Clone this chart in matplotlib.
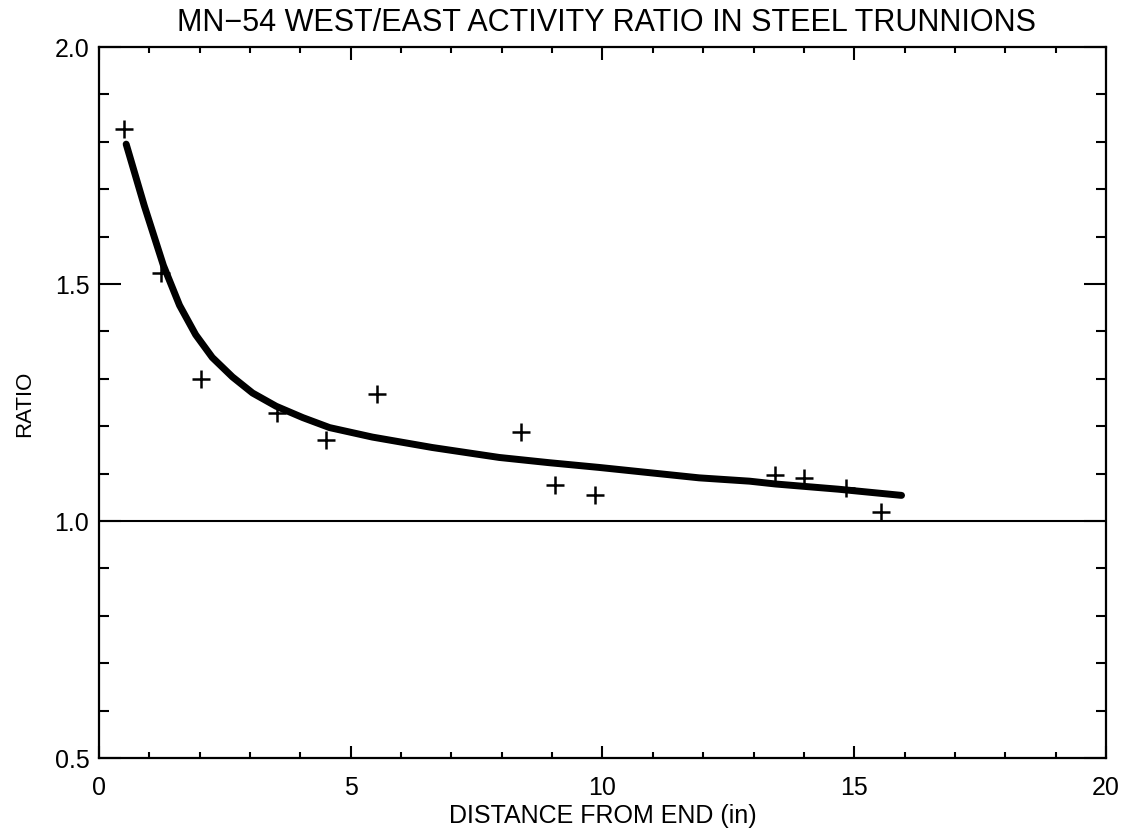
import matplotlib
matplotlib.use("Agg")
import matplotlib.pyplot as plt
from matplotlib.ticker import MultipleLocator

plt.rcParams["font.family"] = ["Liberation Sans", "DejaVu Sans"]

# measured points (+)
dist_pts = [0.49, 1.24, 2.03, 3.53, 4.50, 5.52, 8.38, 9.06, 9.86, 13.42, 14.01, 14.83, 15.53]
ratio_pts = [1.826, 1.523, 1.299, 1.227, 1.170, 1.267, 1.188, 1.075, 1.055, 1.098, 1.091, 1.070, 1.018]

# fitted curve
dist_fit = [0.54, 0.90, 1.28, 1.60, 1.92, 2.25, 2.65, 3.05, 3.52, 4.05, 4.58, 5.43,
            6.62, 7.95, 8.94, 9.93, 11.92, 12.92, 13.44, 14.69, 15.94]
ratio_fit = [1.795, 1.665, 1.539, 1.455, 1.393, 1.345, 1.304, 1.270, 1.242, 1.218, 1.197, 1.177,
             1.155, 1.134, 1.123, 1.113, 1.091, 1.084, 1.078, 1.067, 1.054]

fig = plt.figure(figsize=(11.26, 8.37), dpi=100)
ax = fig.add_axes([0.0879, 0.0932, 0.8943, 0.8495])

ax.plot(dist_fit, ratio_fit, color="black", lw=5, solid_capstyle="round")
ax.plot(dist_pts, ratio_pts, linestyle="none", marker="+", markersize=13,
        markeredgewidth=1.8, color="black")
ax.axhline(1.0, color="black", lw=1.5)

ax.set_xlim(0, 20)
ax.set_ylim(0.5, 2.0)
ax.xaxis.set_major_locator(MultipleLocator(5))
ax.xaxis.set_minor_locator(MultipleLocator(1))
ax.yaxis.set_major_locator(MultipleLocator(0.5))
ax.yaxis.set_minor_locator(MultipleLocator(0.1))
ax.yaxis.set_major_formatter(plt.FormatStrFormatter("%.1f"))

ax.tick_params(axis="x", which="both", direction="in", top=True, width=1.5,
               labelsize=18, pad=12)
ax.tick_params(axis="x", which="major", length=9)
ax.tick_params(axis="x", which="minor", length=4.5)
ax.tick_params(axis="y", which="both", direction="in", right=True, width=1.5,
               labelsize=18, pad=7)
ax.tick_params(axis="y", which="major", length=16)
ax.tick_params(axis="y", which="minor", length=7.5)
for s in ax.spines.values():
    s.set_linewidth(1.6)

ax.set_xlabel("DISTANCE FROM END (in)", fontsize=18, labelpad=3)
ax.set_ylabel("RATIO", fontsize=16, labelpad=14)
fig.text(0.539, 1 - 23 / 837, "MN\u221254 WEST/EAST ACTIVITY RATIO IN STEEL TRUNNIONS",
         ha="center", va="center", fontsize=22)

fig.savefig("out.png", dpi=100)
